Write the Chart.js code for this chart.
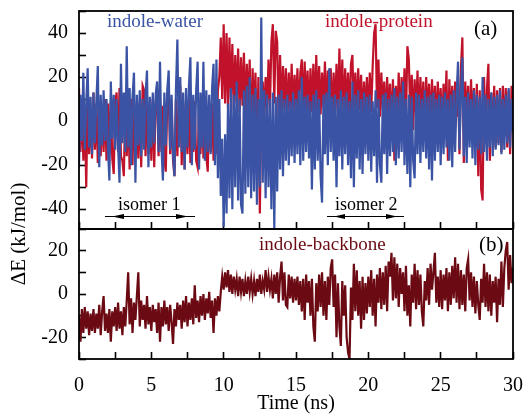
<!DOCTYPE html>
<html><head><meta charset="utf-8">
<script src="https://cdn.jsdelivr.net/npm/chart.js@4"></script>
<style>
html,body{margin:0;padding:0;background:#fff;}
#wrap{position:relative;width:524px;height:416px;overflow:hidden;}
canvas{position:absolute;left:0;top:0;}
</style>
</head><body>
<div id="wrap"><canvas id="ca" width="524" height="416"></canvas><canvas id="cb" width="524" height="416"></canvas></div>
<script>
// sampling step of the time series (ns)
const STEP = 0.1;

// indole-water interaction energy (kJ/mol), one value every 0.1 ns from 0 to 30 ns
const waterE = [
-21,12,-9,22,-13,8,24,-12,11,-15,
13,-10,9,25,-21,12,-11,14,-9,10,
-12,-27,18,-8,12,-13,10,-11,-28,26,
-10,13,-14,34,-12,15,-20,11,22,-28,
12,-11,14,-16,10,-13,12,23,-21,11,
-12,13,-10,12,18,-14,27,-12,-27,13,
-11,14,23,-13,12,-15,-25,14,37,-12,
20,-14,13,-22,15,-12,16,29,-20,12,
-13,14,27,-22,13,-12,27,-18,14,-14,
12,-15,15,26,-20,28,-26,10,-34,-8,
-48,-6,-42,8,-35,15,-40,12,-30,18,
-36,10,-38,-42,14,-33,16,-30,20,-35,
12,-32,15,-38,10,-30,47,-28,14,-35,
12,-30,10,-40,13,-49,11,-32,12,-22,
14,-25,10,-18,12,-20,9,-16,13,-19,
10,-15,14,-20,20,-18,11,-14,12,-17,
9,-31,12,-22,14,-18,10,-25,-37,12,
-15,13,-20,24,-14,11,-18,12,-30,10,
-16,14,-22,11,-15,13,-20,9,-26,18,
-30,12,-17,14,-22,10,-24,13,-15,11,
-18,12,-23,9,-16,14,-28,10,-20,-28,
12,-15,13,-24,10,-16,12,-14,15,-20,
11,-17,13,-14,18,-20,10,-24,12,-30,
11,-18,-26,13,-15,12,-19,10,-14,14,
-17,11,-22,12,-27,13,-18,10,-14,12,
-20,11,-15,13,-12,10,-18,12,-21,14,
-14,11,27,-13,12,29,-16,11,-19,13,
-12,10,-17,14,-20,12,-13,11,-15,20,
-14,12,-18,10,-12,13,-16,11,-13,12,
-11,14,-15,10,-13,12,-10,15,-12,10,
-5];

// indole-protein interaction energy (kJ/mol)
const proteinE = [
15,-14,9,-18,7,-30,10,-15,6,-17,
13,-13,8,-19,9,-16,7,-14,10,-18,
8,-15,9,-17,-24,8,13,-14,15,-16,
-18,-25,9,-16,7,-22,10,-20,8,-15,
9,-17,8,-21,16,14,-16,8,-15,9,
-18,10,-21,8,15,-16,9,-14,7,-17,
-23,9,14,-15,8,-18,-25,10,-16,7,
16,-20,9,-22,8,-15,10,-19,7,-14,
9,-18,-21,8,-15,10,-17,7,-16,-23,
9,-14,8,-18,10,-15,14,20,38,10,
44,8,40,6,38,10,35,5,30,8,
33,4,29,7,31,2,26,6,28,-12,
24,3,22,-18,20,-42,5,18,2,20,
4,28,6,36,44,8,41,36,-2,30,
2,25,5,24,0,22,4,26,1,21,
5,24,2,22,28,3,27,6,23,1,
24,4,26,2,30,5,25,3,22,6,
27,2,23,5,24,0,22,4,26,2,
33,5,28,1,24,4,22,0,26,30,
3,22,1,24,5,21,-2,18,3,20,
0,22,4,25,40,44,6,28,2,22,
5,18,-2,20,3,17,-5,19,-18,16,
1,22,-3,20,4,24,0,34,28,2,
21,-4,19,3,23,-2,20,1,18,-6,
20,2,17,-4,19,0,16,-3,18,1,
15,-5,17,2,23,-18,19,0,16,-6,
18,2,20,-15,24,38,-19,18,1,16,
-8,19,-3,15,-12,17,-25,14,-31,-36,
20,-10,15,26,-18,13,-8,16,-12,14,
-10,15,-14,16,-7,15,-12,14,-15,16,
-4];

// indole-backbone interaction energy (kJ/mol)
const backboneE = [
-10,-22,-7,-18,-6,-16,-8,-19,-9,-17,
-7,-18,-9,-16,-5,-19,-8,-1,-17,-9,
-18,-7,-22,-8,-15,-6,-17,-4,-16,-8,
-19,-6,-15,-3,10,-14,-2,-18,-4,-12,
-1,10,-15,-3,-12,-5,-16,-1,-14,-6,
-17,-5,-13,-7,-18,-4,-22,-6,-15,-3,
-14,-6,-17,-5,-13,-23,-7,-15,-4,-12,
-5,-16,-3,-13,-1,-15,-4,-12,-2,-14,
4,-11,-3,-13,-1,-10,0,-12,-2,-9,
1,-11,-3,-18,-2,-10,-1,-8,1,8,
2,10,3,11,1,9,0,8,2,7,
-1,8,1,7,-1,6,0,8,1,7,
0,6,-1,7,1,9,0,6,2,11,
1,8,2,7,-2,9,0,10,-4,8,
15,-3,10,-5,-6,9,-2,8,-4,7,
-3,8,-5,6,-8,7,-12,9,-4,6,
-10,7,-15,-22,5,-8,9,-6,10,-10,
6,-12,8,-5,12,16,-6,9,-20,5,
-15,-24,6,-10,4,-20,-27,-30,3,-12,
14,-8,11,-10,6,-16,8,-12,5,-9,
8,-6,11,-10,7,-15,9,-4,12,-7,
10,-5,13,-8,15,8,19,-3,17,-2,
14,-6,12,0,10,-8,13,-10,4,-15,
9,-4,14,-7,11,-5,9,-8,-15,6,
-3,12,-5,14,2,10,19,-4,8,-6,
11,-7,9,-3,12,-8,10,-5,13,-2,
17,-4,14,-7,11,-5,9,-8,12,16,
-3,10,-6,8,-9,6,-5,-12,7,-4,
14,-6,10,-8,9,-10,6,-4,8,-13,
7,-5,15,-6,12,20,24,2,18,5,
12];

// tick labels
const xTickLabels = [0, 5, 10, 15, 20, 25, 30];
const yTopTickLabels = [-40, -20, 0, 20, 40];
const yBottomTickLabels = [-20, 0, 20];

// time axis of the samples
const times = waterE.map((_, i) => Math.round(i * STEP * 10) / 10);
const toXY = arr => arr.map((v, i) => ({x: times[i], y: v}));

const FONT = "'Liberation Serif', 'Times New Roman', serif";
Chart.defaults.font.family = FONT;
Chart.defaults.font.size = 20;
Chart.defaults.color = '#000';

const BLUE = '#3a53a4', RED = '#c0132b', DARK = '#6b0a12';
const TICK = {display: true, drawOnChartArea: false, drawTicks: true, tickLength: -7, tickWidth: 1.6, color: '#000'};

function noPad(s) { s.paddingTop = 0; s.paddingBottom = 0; s.paddingLeft = 0; s.paddingRight = 0; }

function boxPlugin(id, draw) {
  return {id, afterDraw(chart) {
    const {ctx, chartArea: a} = chart;
    ctx.save();
    ctx.strokeStyle = '#000'; ctx.lineWidth = 1.8;
    ctx.strokeRect(a.left, a.top, a.right - a.left, a.bottom - a.top);
    if (draw) draw(ctx, chart);
    ctx.restore();
  }};
}

function doubleArrow(ctx, x1, x2, y, tipIn, len) {
  ctx.strokeStyle = '#000'; ctx.fillStyle = '#000'; ctx.lineWidth = 1.1;
  ctx.beginPath(); ctx.moveTo(x1, y); ctx.lineTo(x2, y); ctx.stroke();
  const lt = x1 + tipIn, rt = x2 - tipIn;
  ctx.beginPath(); ctx.moveTo(lt, y); ctx.lineTo(lt + len, y - 2.6); ctx.lineTo(lt + len, y + 2.6); ctx.closePath(); ctx.fill();
  ctx.beginPath(); ctx.moveTo(rt, y); ctx.lineTo(rt - len, y - 2.6); ctx.lineTo(rt - len, y + 2.6); ctx.closePath(); ctx.fill();
}

const commonLine = {borderWidth: 2.2, pointRadius: 0, tension: 0, fill: false, borderJoinStyle: 'miter'};

new Chart(document.getElementById('ca'), {
  type: 'line',
  data: {datasets: [
    {label: 'indole-water', data: toXY(waterE), borderColor: BLUE, ...commonLine},
    {label: 'indole-protein', data: toXY(proteinE), borderColor: RED, ...commonLine}
  ]},
  options: {
    responsive: false, animation: false, parsing: false,
    layout: {padding: {top: 11, left: 0, right: 11, bottom: 416 - 229}},
    plugins: {legend: {display: false}, tooltip: {enabled: false}},
    scales: {
      x: {type: 'linear', min: 0, max: 30,
        ticks: {display: false, stepSize: 2.5, autoSkip: false},
        grid: TICK, border: {display: false},
        afterFit: s => { s.height = 0; noPad(s); }},
      y: {min: -49, max: 50,
        ticks: {stepSize: 10, includeBounds: false, padding: 18, autoSkip: false,
          callback: v => yTopTickLabels.includes(v) ? String(v) : ''},
        grid: TICK, border: {display: false},
        afterFit: s => { s.width = 79; noPad(s); }}
    }
  },
  plugins: [boxPlugin('boxA', (ctx) => {
    ctx.textBaseline = 'alphabetic';
    ctx.font = "19px " + FONT;
    ctx.fillStyle = BLUE; ctx.fillText('indole-water', 107, 27);
    ctx.fillStyle = RED; ctx.fillText('indole-protein', 325, 27);
    ctx.fillStyle = '#000'; ctx.font = "21px " + FONT; ctx.fillText('(a)', 474, 35);
    ctx.font = "18px " + FONT;
    ctx.fillText('isomer 1', 118, 210);
    ctx.fillText('isomer 2', 335, 210);
    doubleArrow(ctx, 105, 195, 216.5, 7, 12);
    doubleArrow(ctx, 327, 404, 216.5, 7, 11);
  })]
});

new Chart(document.getElementById('cb'), {
  type: 'line',
  data: {datasets: [
    {label: 'indole-backbone', data: toXY(backboneE), borderColor: DARK, ...commonLine}
  ]},
  options: {
    responsive: false, animation: false, parsing: false,
    layout: {padding: {top: 229, left: 0, right: 11, bottom: 0}},
    plugins: {legend: {display: false}, tooltip: {enabled: false}},
    scales: {
      x: {type: 'linear', min: 0, max: 30,
        ticks: {stepSize: 2.5, padding: 22, maxRotation: 0, autoSkip: false,
          callback: v => xTickLabels.includes(v) ? String(v) : ''},
        grid: TICK, border: {display: false},
        title: {display: true, text: 'Time (ns)', padding: {top: 0, bottom: 0}, font: {size: 20}},
        afterFit: s => { s.height = 57; noPad(s); }},
      y: {min: -30, max: 30,
        ticks: {stepSize: 10, includeBounds: false, padding: 18, autoSkip: false,
          callback: v => yBottomTickLabels.includes(v) ? String(v) : ''},
        grid: TICK, border: {display: false},
        afterFit: s => { s.width = 79; noPad(s); }}
    }
  },
  plugins: [boxPlugin('boxB', (ctx) => {
    ctx.textBaseline = 'alphabetic';
    ctx.font = "19px " + FONT;
    ctx.fillStyle = DARK; ctx.fillText('indole-backbone', 259, 250);
    ctx.fillStyle = '#000'; ctx.font = "21px " + FONT; ctx.fillText('(b)', 479, 251);
    ctx.save();
    ctx.translate(19, 234); ctx.rotate(-Math.PI / 2);
    ctx.textAlign = 'center'; ctx.textBaseline = 'middle';
    ctx.font = "21px " + FONT;
    ctx.fillText('\u0394E (kJ/mol)', 0, 0);
    ctx.restore();
  })]
});
</script>
</body></html>
